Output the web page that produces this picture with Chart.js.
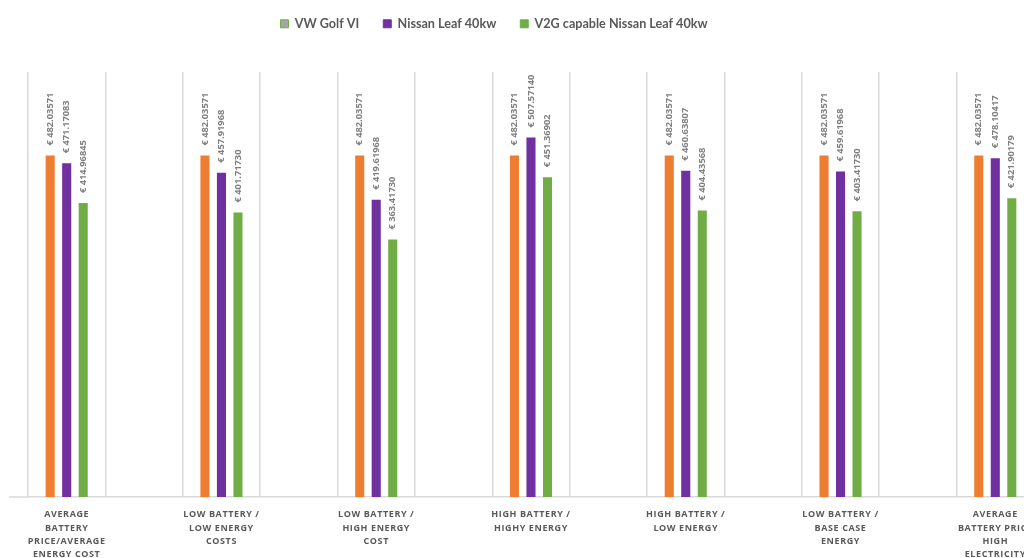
<!DOCTYPE html>
<html><head><meta charset="utf-8">
<script src="https://cdn.jsdelivr.net/npm/chart.js@4/dist/chart.umd.min.js"></script>
<style>
html,body{margin:0;padding:0;background:#fff;overflow:hidden;width:1024px;height:558px;}
#wrap{position:absolute;left:-50px;top:-9px;width:1090px;height:567px;}
</style></head><body><div id="wrap"><canvas id="c"></canvas></div>
<script>
// Categories (blank entries are the empty spacer columns of the original sheet)
const categories = [
  ['AVERAGE','BATTERY','PRICE/AVERAGE','ENERGY COST'], '',
  ['LOW BATTERY /','LOW ENERGY','COSTS'], '',
  ['LOW BATTERY /','HIGH ENERGY','COST'], '',
  ['HIGH BATTERY /','HIGHY ENERGY'], '',
  ['HIGH BATTERY /','LOW ENERGY'], '',
  ['LOW BATTERY /','BASE CASE','ENERGY'], '',
  ['AVERAGE','BATTERY PRICE','HIGH','ELECTRICITY']
];
const seriesNames = ['VW Golf VI', 'Nissan Leaf 40kw', 'V2G capable Nissan Leaf 40kw'];
const golfVI     = [482.03571, null, 482.03571, null, 482.03571, null, 482.03571, null, 482.03571, null, 482.03571, null, 482.03571];
const leaf40     = [471.17083, null, 457.91968, null, 419.61968, null, 507.57140, null, 460.63807, null, 459.61968, null, 478.10417];
const leafV2G    = [414.96845, null, 401.71730, null, 363.41730, null, 451.36902, null, 404.43568, null, 403.41730, null, 421.90179];
const barColors    = ['#ED7D31', '#7030A0', '#70AD47'];
const legendFill   = ['#A5A5A5', '#7030A0', '#70AD47'];
const legendStroke = ['#70AD47', '#7030A0', '#70AD47'];

const PAD_TOP = 2.5;

const valueLabels = {
  id: 'valueLabels',
  beforeDatasetsDraw(chart) {
    const ctx = chart.ctx, a = chart.chartArea;
    ctx.save();
    ctx.strokeStyle = '#D9D9D9'; ctx.lineWidth = 1.5;
    ctx.beginPath(); ctx.moveTo(59, a.bottom); ctx.lineTo(a.left, a.bottom); ctx.stroke();
    ctx.restore();
  },
  afterDatasetsDraw(chart) {
    const ctx = chart.ctx;
    ctx.save();
    ctx.font = '700 9.3px "Open Sans"';
    ctx.fillStyle = '#7F7F7F';
    ctx.textAlign = 'left';
    ctx.textBaseline = 'middle';
    chart.data.datasets.forEach((ds, i) => {
      chart.getDatasetMeta(i).data.forEach((bar, j) => {
        const v = ds.data[j];
        if (v == null) return;
        ctx.save();
        ctx.translate(bar.x, bar.y - 10);
        ctx.rotate(-Math.PI / 2);
        ctx.fillText('€ ' + v.toFixed(5), 0, 0);
        ctx.restore();
      });
    });
    ctx.restore();
  }
};

new Chart(document.getElementById('c'), {
  type: 'bar',
  data: {
    labels: categories,
    datasets: [
      { label: seriesNames[0], data: golfVI,  backgroundColor: barColors[0], xAxisID: 'x', yAxisID: 'y' },
      { label: seriesNames[1], data: leaf40,  backgroundColor: barColors[1], xAxisID: 'x', yAxisID: 'y' },
      { label: seriesNames[2], data: leafV2G, backgroundColor: barColors[2], xAxisID: 'x', yAxisID: 'y' }
    ]
  },
  options: {
    responsive: true,
    maintainAspectRatio: false,
    animation: false,
    categoryPercentage: 0.64,
    barPercentage: 0.55,
    layout: { padding: { left: 2.5, right: 4.5, top: PAD_TOP, bottom: 0 } },
    plugins: {
      tooltip: { enabled: false },
      legend: {
        position: 'top',
        labels: {
          boxWidth: 8, boxHeight: 8, padding: 24,
          color: '#595959',
          font: { family: 'Lato', size: 12.6, weight: 'bold' },
          generateLabels(chart) {
            return chart.data.datasets.map((ds, i) => ({
              text: ds.label, fillStyle: legendFill[i], strokeStyle: legendStroke[i],
              lineWidth: 1, hidden: false, datasetIndex: i, fontColor: '#595959'
            }));
          }
        }
      }
    },
    scales: {
      x: {
        position: 'bottom',
        grid: { color: '#D9D9D9', lineWidth: 1.5, drawTicks: false, offset: true },
        border: { color: '#D9D9D9', width: 1.5 },
        ticks: {
          autoSkip: false, maxRotation: 0, minRotation: 0, padding: 11,
          color: '#595959',
          font: { family: 'Open Sans', size: 9, weight: 700, lineHeight: '13.3px' }
        },
        afterFit(s) {
          s.height = 61;
          if (!s._lsPatched) {
            const orig = s.drawLabels;
            s.drawLabels = function (area) {
              const ctx = this.ctx; ctx.save(); ctx.letterSpacing = '0.6px';
              orig.call(this, area); ctx.restore();
            };
            s._lsPatched = true;
          }
        }
      },
      xTop: {
        type: 'linear', position: 'top', display: true,
        grid: { display: false }, border: { display: false }, ticks: { display: false },
        afterFit(s) { s.height = Math.max(0, 81 - PAD_TOP - (s.chart.legend ? s.chart.legend.height : 61)); }
      },
      y: {
        min: 0, max: 600, position: 'left',
        grid: { display: false }, border: { display: false }, ticks: { display: false },
        afterFit(s) { s.width = 75.5; }
      }
    }
  },
  plugins: [valueLabels]
});
</script></body></html>
